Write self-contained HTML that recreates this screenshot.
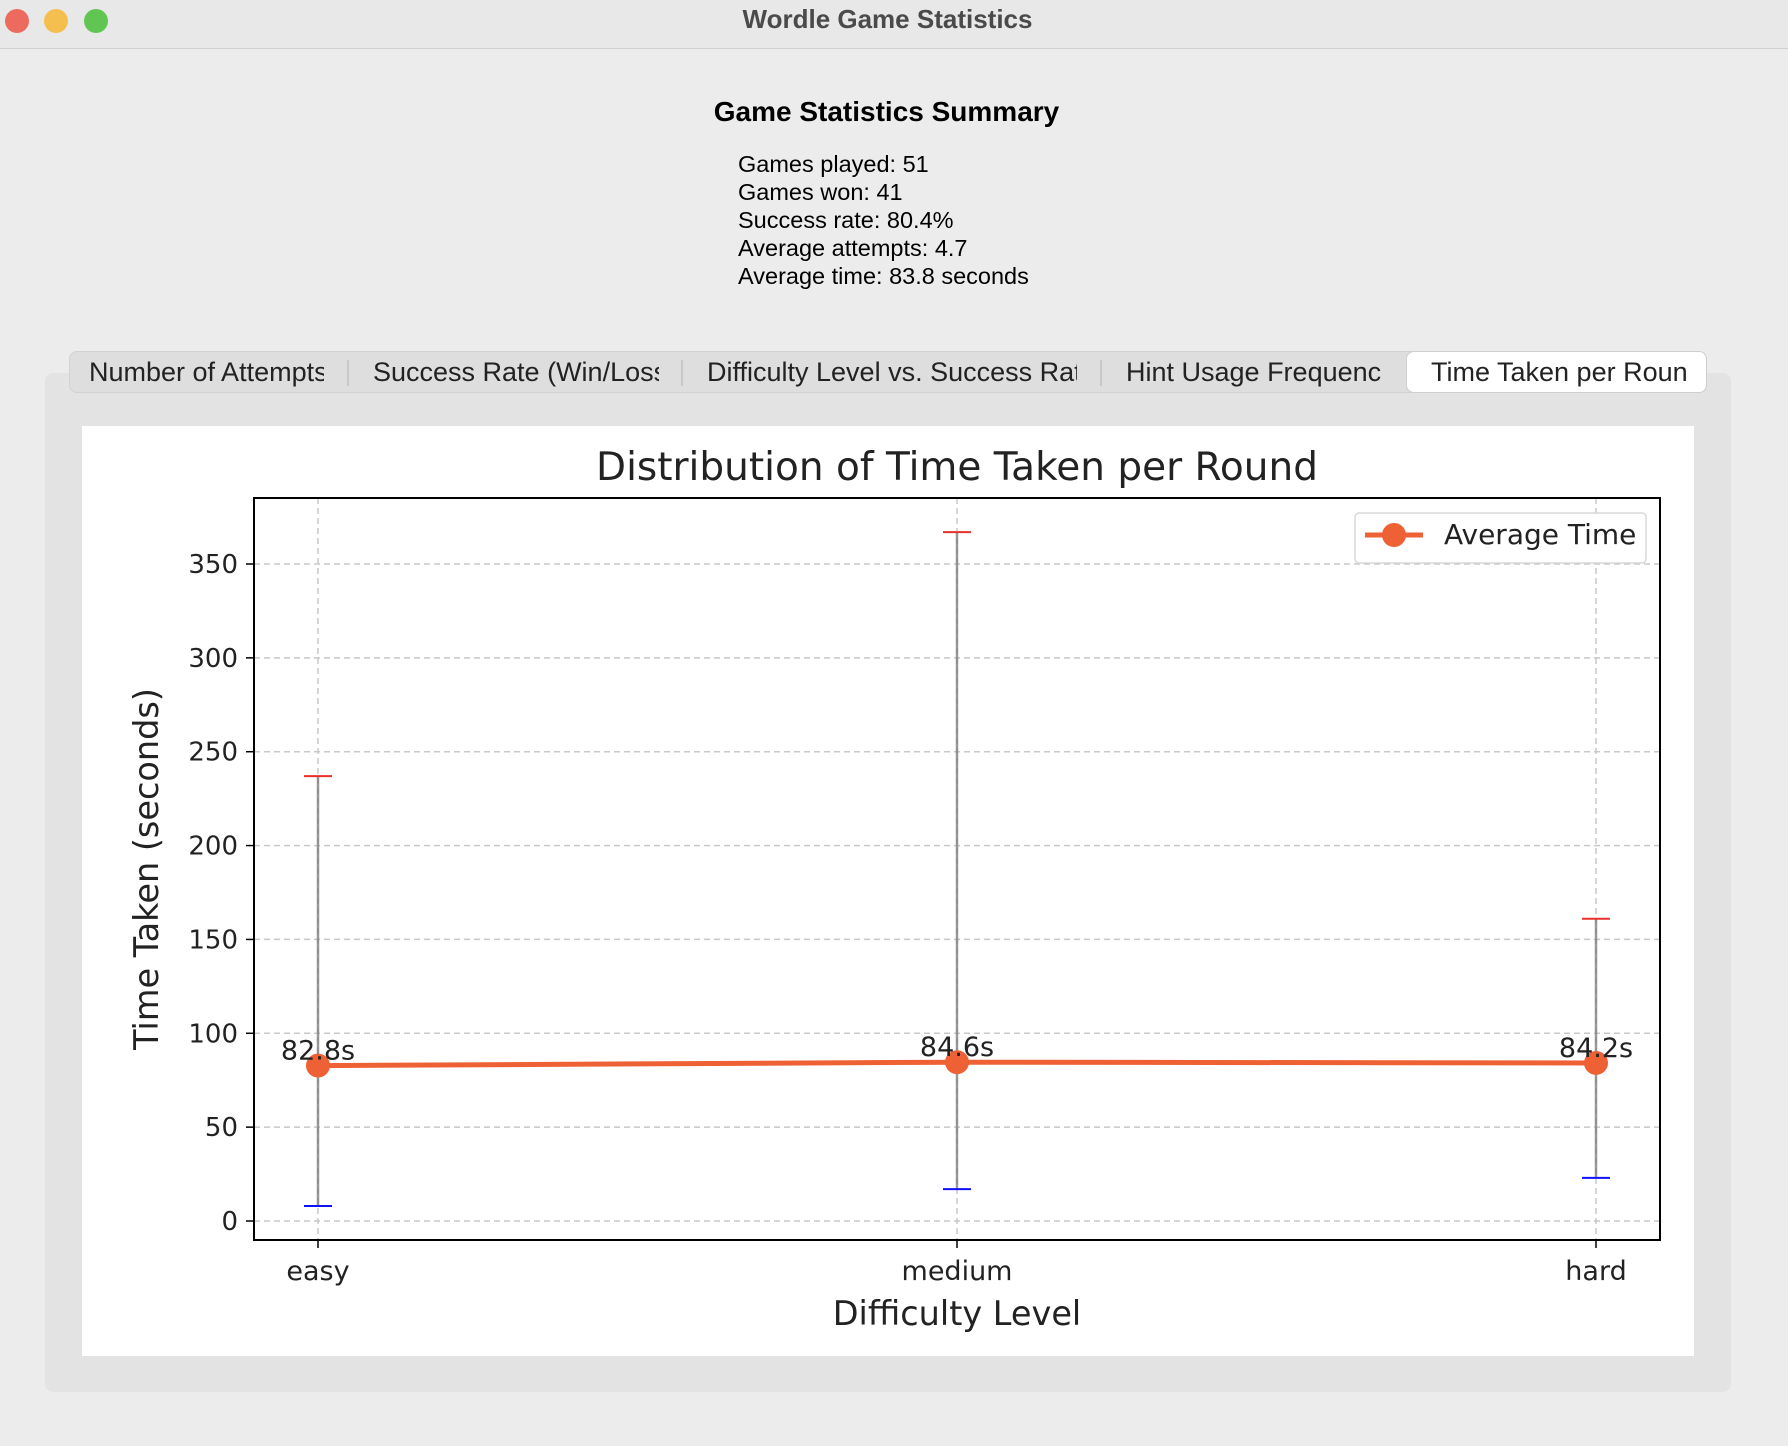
<!DOCTYPE html>
<html><head><meta charset="utf-8">
<style>
html,body{margin:0;padding:0;width:1788px;height:1446px;overflow:hidden;background:#ececec;font-family:"Liberation Sans","DejaVu Sans",sans-serif;}
.abs{position:absolute;}
</style></head>
<body>
<div class="abs" style="left:0;top:0;width:1788px;height:48px;background:#e8e8e8;border-bottom:1px solid #d0d0d0;">
  <div class="abs" style="left:5px;top:9px;width:24px;height:24px;border-radius:50%;background:#ed6a5e;"></div>
  <div class="abs" style="left:44px;top:9px;width:24px;height:24px;border-radius:50%;background:#f5bf4f;"></div>
  <div class="abs" style="left:84px;top:9px;width:24px;height:24px;border-radius:50%;background:#61c554;"></div>
  <div class="abs" style="left:0;width:1775px;top:4px;text-align:center;font-size:26px;font-weight:bold;color:#4a4a4a;">Wordle Game Statistics</div>
</div>
<div class="abs" style="left:0;width:1773px;top:96px;text-align:center;font-size:28px;font-weight:bold;color:#000;">Game Statistics Summary</div>
<div class="abs" style="left:738px;top:150px;font-size:23.5px;line-height:28px;color:#000;">
<div>Games played: 51</div>
<div>Games won: 41</div>
<div>Success rate: 80.4%</div>
<div>Average attempts: 4.7</div>
<div>Average time: 83.8 seconds</div>
</div>
<div class="abs" style="left:45px;top:373px;width:1686px;height:1019px;background:#e3e3e3;border-radius:8px;"></div>
<div class="abs" style="left:69px;top:351px;width:1637px;height:42px;background:#dedede;border-radius:8px;border:1px solid #d2d2d2;box-sizing:border-box;font-size:27px;color:#222;">
  <div class="abs" style="left:19px;top:5px;width:235px;overflow:hidden;white-space:nowrap;">Number of Attempts</div>
  <div class="abs" style="left:277px;top:8px;width:2px;height:26px;background:#c8c8c8;"></div>
  <div class="abs" style="left:303px;top:5px;width:286px;overflow:hidden;white-space:nowrap;">Success Rate (Win/Loss)</div>
  <div class="abs" style="left:611px;top:8px;width:2px;height:26px;background:#c8c8c8;"></div>
  <div class="abs" style="left:637px;top:5px;width:370px;overflow:hidden;white-space:nowrap;">Difficulty Level vs. Success Rate</div>
  <div class="abs" style="left:1030px;top:8px;width:2px;height:26px;background:#c8c8c8;"></div>
  <div class="abs" style="left:1056px;top:5px;width:255px;overflow:hidden;white-space:nowrap;">Hint Usage Frequency</div>
  <div class="abs" style="left:1336px;top:-1px;width:301px;height:42px;background:#fff;border-radius:8px;border:1px solid #cfcfcf;box-sizing:border-box;">
    <div class="abs" style="left:24px;top:5px;width:255px;overflow:hidden;white-space:nowrap;">Time Taken per Round</div>
  </div>
</div>
<div class="abs" style="left:82px;top:426px;width:1612px;height:930px;background:#fff;"></div>
<svg class="abs" style="left:0;top:0" width="1788" height="1446" id="chart"></svg>
<script>
const categories=["easy","medium","hard"];
const avgTimes=[82.8,84.6,84.2];
const minTimes=[8,17,23];
const maxTimes=[237,367,161];
const yTicks=[0,50,100,150,200,250,300,350];
const NS="http://www.w3.org/2000/svg";
const svg=document.getElementById('chart');
const X0=254,X1=1660,Y0=498,Y1=1240;
function xs(i){return 318+i*(1596-318)/(categories.length-1);}
function ys(v){return 1221-v*(1221-564)/350;}
function mk(tag,attrs,text){const e=document.createElementNS(NS,tag);for(const k in attrs)e.setAttribute(k,attrs[k]);if(text!==undefined)e.textContent=text;svg.appendChild(e);return e;}
const F='"DejaVu Sans","Liberation Sans",sans-serif';
yTicks.forEach(t=>{const g=mk('line',{x1:X0,x2:X1,y1:ys(t),y2:ys(t),stroke:'#c8c8c8','stroke-width':1.5,'stroke-dasharray':'6,4'});


const tk=mk('line',{x1:X0-8,x2:X0,y1:ys(t),y2:ys(t),stroke:'#000','stroke-width':1.5});


const l=mk('text',{x:X0-16,y:ys(t)+9,'text-anchor':'end','font-size':26,'font-family':F,fill:'#222'},t);

});
categories.forEach((c,i)=>{const g=mk('line',{x1:xs(i),x2:xs(i),y1:Y0,y2:Y1,stroke:'#c8c8c8','stroke-width':1.5,'stroke-dasharray':'6,4'});


const tk=mk('line',{x1:xs(i),x2:xs(i),y1:Y1,y2:Y1+8,stroke:'#000','stroke-width':1.5});


const l=mk('text',{x:xs(i),y:Y1+40,'text-anchor':'middle','font-size':27,'font-family':F,fill:'#222'},c);

});
categories.forEach((c,i)=>{const e=mk('line',{x1:xs(i),x2:xs(i),y1:ys(maxTimes[i]),y2:ys(minTimes[i]),stroke:'#808080','stroke-width':2.5,opacity:0.8});


const mx=mk('line',{x1:xs(i)-14,x2:xs(i)+14,y1:ys(maxTimes[i]),y2:ys(maxTimes[i]),stroke:'#e8302a','stroke-width':2});


const mn=mk('line',{x1:xs(i)-14,x2:xs(i)+14,y1:ys(minTimes[i]),y2:ys(minTimes[i]),stroke:'#1010ff','stroke-width':2});

});
const pts=avgTimes.map((v,i)=>xs(i)+','+ys(v)).join(' ');
const pl=mk('polyline',{points:pts,fill:'none',stroke:'#ee6135','stroke-width':5});


avgTimes.forEach((v,i)=>{const p=mk('circle',{cx:xs(i),cy:ys(v),r:12,fill:'#ee6135'});


const l=mk('text',{x:xs(i),y:ys(v)-6,'text-anchor':'middle','font-size':27,'font-family':F,fill:'#222'},v.toFixed(1)+'s');

});
const fr=mk('rect',{x:X0,y:Y0,width:X1-X0,height:Y1-Y0,fill:'none',stroke:'#000','stroke-width':2});


const tt=mk('text',{x:(X0+X1)/2,y:480,'text-anchor':'middle','font-size':39,'font-family':F,fill:'#222'},'Distribution of Time Taken per Round');


const xt=mk('text',{x:(X0+X1)/2,y:1325,'text-anchor':'middle','font-size':33.5,'font-family':F,fill:'#222'},'Difficulty Level');


const yt=mk('text',{x:0,y:0,'text-anchor':'middle','font-size':33.5,'font-family':F,fill:'#222',transform:'translate(158,869) rotate(-90)'},'Time Taken (seconds)');


const lg=mk('rect',{x:1355,y:513,width:291,height:50,rx:4,fill:'#fff',stroke:'#d8d8d8','stroke-width':1.5});


const ll=mk('line',{x1:1365,x2:1423,y1:535,y2:535,stroke:'#ee6135','stroke-width':5});


const lc=mk('circle',{cx:1394,cy:535,r:12,fill:'#ee6135'});


const lt=mk('text',{x:1444,y:544,'font-size':28,'font-family':F,fill:'#222'},'Average Time');


</script>
</body></html>
